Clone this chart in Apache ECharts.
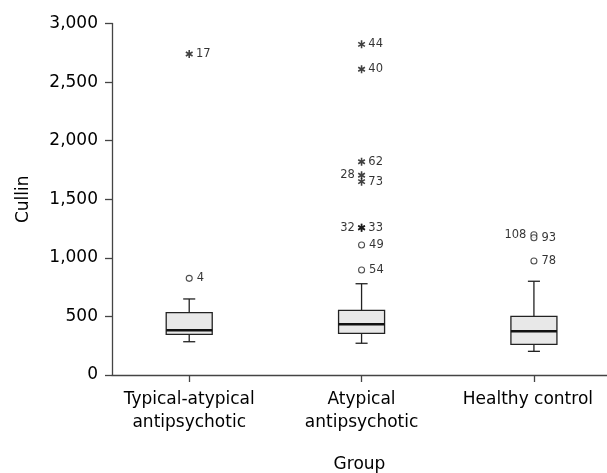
<!DOCTYPE html>
<html>
<head>
<meta charset="utf-8">
<style>html,body{margin:0;padding:0;background:#fff;}#c{width:607px;height:473px;}</style>
<script src="https://cdn.jsdelivr.net/npm/echarts@6/dist/echarts.min.js"></script>
</head>
<body>
<div id="c"></div>
<script>
// ---- data ----
const categories = ['Typical-atypical\nantipsychotic', 'Atypical\nantipsychotic', 'Healthy control'];
const lowerWhisker = [284, 271, 202];
const q1Values = [347, 356, 262];
const medianValues = [382, 433, 373];
const q3Values = [532, 552, 501];
const upperWhisker = [649, 779, 800];

// outliers (circles)
const outlierGroup = [0, 1, 1, 2, 2, 2];
const outlierValue = [825, 1110, 896, 1197, 1172, 973];
const outlierLabel = ['4', '49', '54', '108', '93', '78'];
const outlierSide = ['right', 'right', 'right', 'left', 'right', 'right'];

// extreme values (asterisks)
const extremeGroup = [0, 1, 1, 1, 1, 1, 1, 1];
const extremeValue = [2740, 2822, 2609, 1820, 1705, 1650, 1257, 1257];
const extremeLabel = ['17', '44', '40', '62', '28', '73', '32', '33'];
const extremeSide = ['right', 'right', 'right', 'right', 'left', 'right', 'left', 'right'];

const yTicks = [0, 500, 1000, 1500, 2000, 2500, 3000];

// ---- chart ----
const FONT = 'DejaVu Sans';
const chart = echarts.init(document.getElementById('c'), null, {renderer: 'canvas'});

const boxData = categories.map((_, i) => [i, lowerWhisker[i], q1Values[i], medianValues[i], q3Values[i], upperWhisker[i]]);

const starPath = 'path://M-0.2,-1L0.2,-1L0.2,1L-0.2,1Z M0.766,-0.673L0.966,-0.327L-0.766,0.673L-0.966,0.327Z M-0.966,-0.327L-0.766,-0.673L0.966,0.327L0.766,0.673Z';

function fmt(v) { return String(v).replace(/\B(?=(\d{3})+(?!\d))/g, ','); }

const option = {
  animation: false,
  backgroundColor: '#fff',
  textStyle: {fontFamily: FONT},
  grid: {left: 112, right: 0, top: 23.5, bottom: 98, containLabel: false, outerBoundsMode: 'none'},
  xAxis: {
    type: 'value',
    min: -0.448,
    max: 2.424,
    name: 'Group',
    nameLocation: 'middle',
    nameGap: 81,
    nameTextStyle: {fontFamily: FONT, fontSize: 17, color: '#000'},
    axisLine: {show: true, onZero: false, lineStyle: {color: '#444', width: 1.3}},
    axisTick: {show: true, length: 7, customValues: [0, 1, 2], lineStyle: {color: '#444', width: 1.3}},
    axisLabel: {
      customValues: [0, 1, 2],
      margin: 13,
      fontFamily: FONT,
      fontSize: 17,
      lineHeight: 23,
      color: '#000',
      formatter: function (v) {
        const i = Math.round(v);
        if (i === 2) return '{h|' + categories[i] + '}';
        return categories[i];
      },
      rich: {h: {fontFamily: FONT, fontSize: 17, lineHeight: 23, color: '#000', padding: [0, 12, 0, 0]}}
    },
    splitLine: {show: false}
  },
  yAxis: {
    type: 'value',
    min: yTicks[0],
    max: yTicks[yTicks.length - 1],
    interval: 500,
    name: 'Cullin',
    nameLocation: 'middle',
    nameGap: 80,
    nameTextStyle: {fontFamily: FONT, fontSize: 17, color: '#000'},
    axisLine: {show: true, onZero: false, lineStyle: {color: '#444', width: 1.3}},
    axisTick: {show: true, length: 7, lineStyle: {color: '#444', width: 1.3}},
    axisLabel: {margin: 14, fontFamily: FONT, fontSize: 17, color: '#000', formatter: fmt},
    splitLine: {show: false}
  },
  series: [
    {
      type: 'custom',
      data: boxData,
      encode: {x: 0, y: [1, 2, 3, 4, 5]},
      z: 2,
      renderItem: function (params, api) {
        const x = api.value(0);
        const low = api.coord([x, api.value(1)]);
        const q1 = api.coord([x, api.value(2)]);
        const med = api.coord([x, api.value(3)]);
        const q3 = api.coord([x, api.value(4)]);
        const up = api.coord([x, api.value(5)]);
        const half = api.size([0.267, 0])[0] / 2;
        const cap = api.size([0.07, 0])[0] / 2;
        const cx = low[0];
        const ls = {stroke: '#222', lineWidth: 1.3};
        return {
          type: 'group',
          children: [
            {type: 'line', shape: {x1: cx, y1: q3[1], x2: cx, y2: up[1]}, style: ls},
            {type: 'line', shape: {x1: cx - cap, y1: up[1], x2: cx + cap, y2: up[1]}, style: ls},
            {type: 'line', shape: {x1: cx, y1: q1[1], x2: cx, y2: low[1]}, style: ls},
            {type: 'line', shape: {x1: cx - cap, y1: low[1], x2: cx + cap, y2: low[1]}, style: ls},
            {type: 'rect', shape: {x: cx - half, y: q3[1], width: half * 2, height: q1[1] - q3[1]},
             style: {fill: '#e8e8e8', stroke: '#222', lineWidth: 1.3}},
            {type: 'line', shape: {x1: cx - half, y1: med[1], x2: cx + half, y2: med[1]},
             style: {stroke: '#111', lineWidth: 2.6}}
          ]
        };
      }
    },
    {
      type: 'scatter',
      symbol: 'circle',
      symbolSize: 6,
      z: 3,
      itemStyle: {color: '#fff', borderColor: '#222', borderWidth: 1.1},
      label: {show: true, distance: 4, fontFamily: FONT, fontSize: 11.5, color: '#000', formatter: '{b}'},
      data: outlierValue.map((v, i) => ({name: outlierLabel[i], value: [outlierGroup[i], v], label: {position: outlierSide[i]}}))
    },
    {
      type: 'scatter',
      symbol: starPath,
      symbolSize: [7.5, 8],
      z: 3,
      itemStyle: {color: '#111'},
      label: {show: true, distance: 3, fontFamily: FONT, fontSize: 11.5, color: '#000', formatter: '{b}'},
      data: extremeValue.map((v, i) => ({name: extremeLabel[i], value: [extremeGroup[i], v], label: {position: extremeSide[i]}}))
    }
  ]
};
chart.setOption(option);
</script>
</body>
</html>
